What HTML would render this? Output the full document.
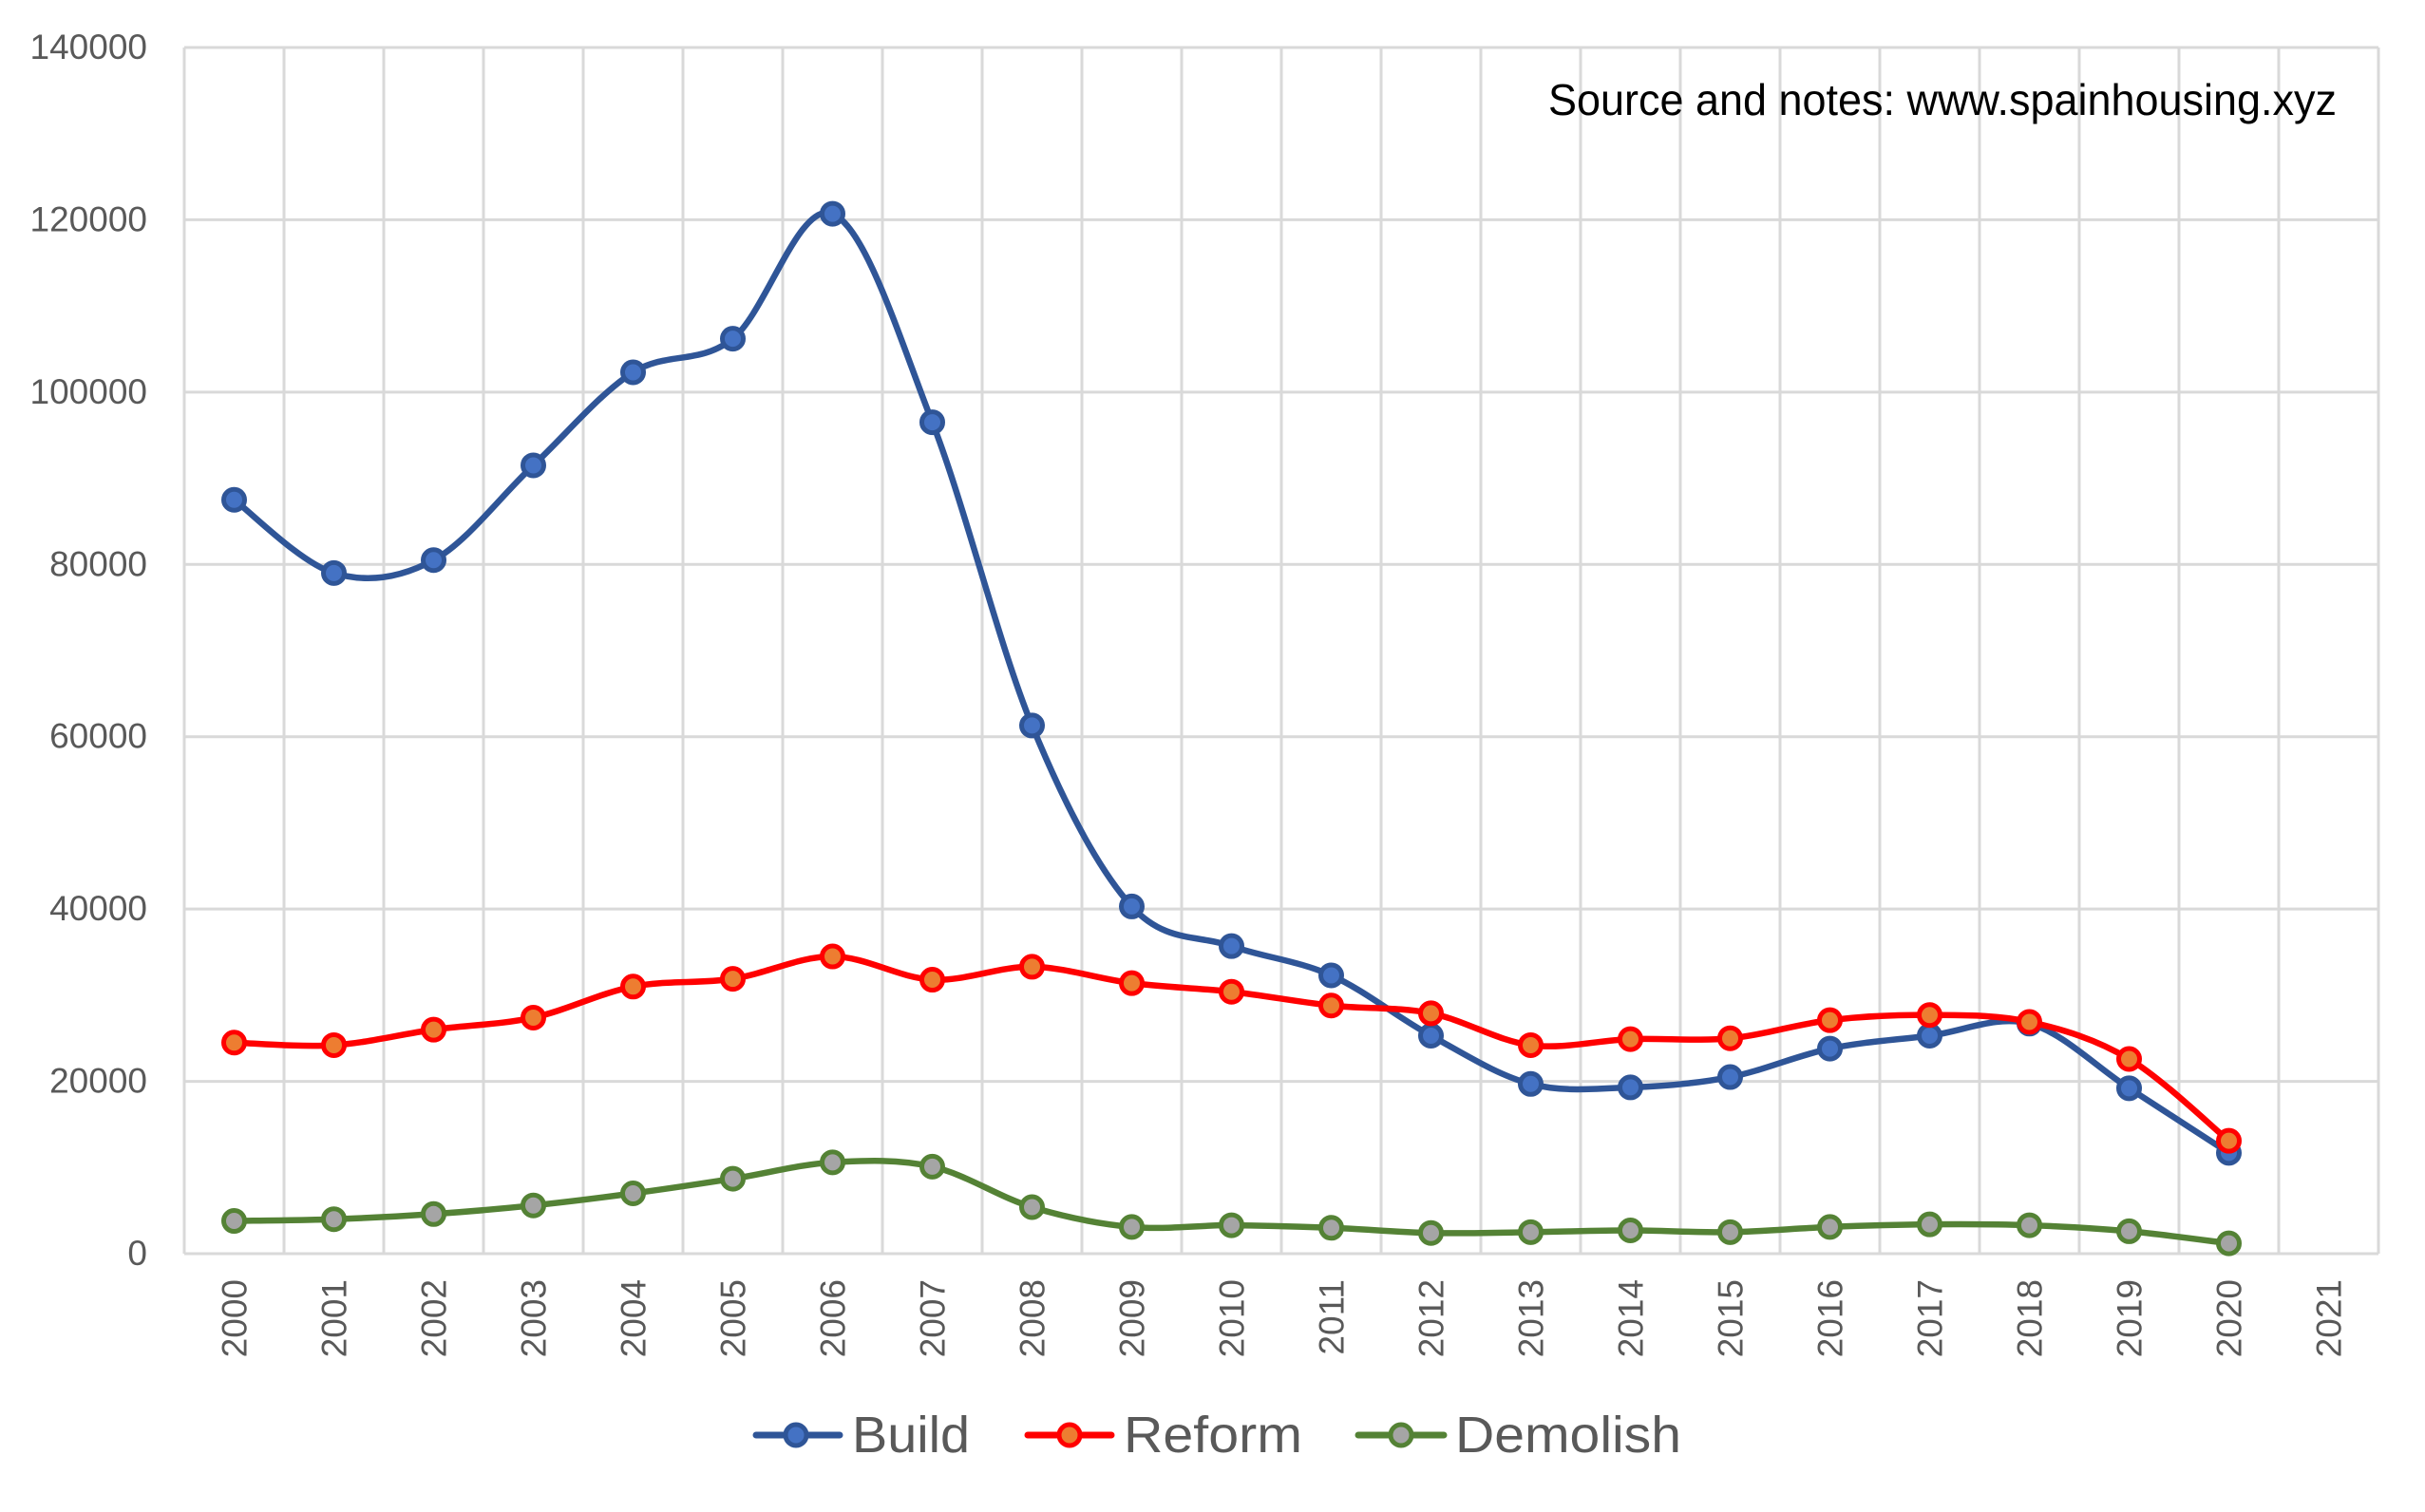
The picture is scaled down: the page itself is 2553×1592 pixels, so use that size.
<!DOCTYPE html>
<html><head><meta charset="utf-8"><style>
html,body{margin:0;padding:0;background:#fff;}
svg{display:block;font-family:"Liberation Sans",sans-serif;}
</style></head><body>
<svg id="chart" width="2553" height="1592" viewBox="0 0 2553 1592">
<g id="grid"></g>
<g id="yaxis"></g>
<g id="xaxis"></g>
<g id="series"></g>
<text x="2460" y="121" text-anchor="end" font-size="46" fill="#000" textLength="830" lengthAdjust="spacingAndGlyphs">Source and notes: www.spainhousing.xyz</text>
<g>
 <g>
  <line x1="796" y1="1511" x2="884" y2="1511" stroke="#2F5597" stroke-width="7" stroke-linecap="round"/>
  <circle cx="838" cy="1511" r="11" fill="#4472C4" stroke="#2F5597" stroke-width="5"/>
  <text x="897" y="1529" font-size="54" fill="#595959" textLength="124" lengthAdjust="spacingAndGlyphs">Build</text>
 </g>
 <g>
  <line x1="1082" y1="1511" x2="1170" y2="1511" stroke="#FF0000" stroke-width="7" stroke-linecap="round"/>
  <circle cx="1126" cy="1511" r="11" fill="#ED7D31" stroke="#FF0000" stroke-width="5"/>
  <text x="1183" y="1529" font-size="54" fill="#595959" textLength="188" lengthAdjust="spacingAndGlyphs">Reform</text>
 </g>
 <g>
  <line x1="1430" y1="1511" x2="1520" y2="1511" stroke="#548235" stroke-width="7" stroke-linecap="round"/>
  <circle cx="1475" cy="1511" r="11" fill="#A5A5A5" stroke="#548235" stroke-width="5"/>
  <text x="1532" y="1529" font-size="54" fill="#595959" textLength="238" lengthAdjust="spacingAndGlyphs">Demolish</text>
 </g>
</g>
</svg>
<script>
const categories = ["2000","2001","2002","2003","2004","2005","2006","2007","2008","2009","2010","2011","2012","2013","2014","2015","2016","2017","2018","2019","2020","2021"];
const buildValues = [87500,79000,80500,91500,102300,106200,120700,96500,61300,40300,35700,32300,25300,19700,19300,20500,23800,25300,26700,19200,11700];
const reformValues = [24500,24200,26000,27400,31000,31900,34500,31800,33300,31400,30400,28800,27900,24200,24900,25000,27100,27700,26900,22600,13100];
const demolishValues = [3800,4000,4600,5600,7000,8700,10600,10100,5400,3100,3300,3000,2400,2500,2700,2500,3100,3400,3300,2600,1200];
const yTicks = [0,20000,40000,60000,80000,100000,120000,140000];

const NS="http://www.w3.org/2000/svg";
const L=194,R=2504,T=50,B=1320,YMAX=140000;
const bw=(R-L)/categories.length;
function xs(i){return L+bw*(i+0.5);}
function ys(v){return B-(v/YMAX)*(B-T);}
function mk(tag,attrs,parent){const e=document.createElementNS(NS,tag);for(const k in attrs)e.setAttribute(k,attrs[k]);parent.appendChild(e);return e;}

const grid=document.getElementById('grid');
yTicks.forEach(v=>{
  const l=mk('line',{x1:L,x2:R,y1:ys(v),y2:ys(v),stroke:'#D9D9D9','stroke-width':3},grid);
  
  
});
for(let i=0;i<=categories.length;i++){
  const x=L+bw*i;
  const l=mk('line',{x1:x,x2:x,y1:T,y2:B,stroke:'#D9D9D9','stroke-width':3},grid);
  
  
}
const yaxis=document.getElementById('yaxis');
yTicks.forEach(v=>{
  const t=mk('text',{x:155,y:ys(v)+12,'text-anchor':'end','font-size':37,fill:'#595959'},yaxis);
  t.textContent=String(v);
  
  
});
const xaxis=document.getElementById('xaxis');
categories.forEach((c,i)=>{
  const x=xs(i)+13,y=1347;
  const t=mk('text',{x:x,y:y,'text-anchor':'end','font-size':37,fill:'#595959',transform:`rotate(-90 ${x} ${y})`},xaxis);
  t.textContent=c;
  
  
});

function smoothPath(pts){
  let d=`M${pts[0][0]},${pts[0][1]}`;
  for(let i=0;i<pts.length-1;i++){
    const p0=pts[i-1]||pts[i],p1=pts[i],p2=pts[i+1],p3=pts[i+2]||p2;
    const c1=[p1[0]+(p2[0]-p0[0])/6,p1[1]+(p2[1]-p0[1])/6];
    const c2=[p2[0]-(p3[0]-p1[0])/6,p2[1]-(p3[1]-p1[1])/6];
    d+=` C${c1[0]},${c1[1]} ${c2[0]},${c2[1]} ${p2[0]},${p2[1]}`;
  }
  return d;
}
const seriesG=document.getElementById('series');
function drawSeries(vals,line,fill,name){
  const g=mk('g',{},seriesG);
  
  
  const pts=vals.map((v,i)=>[xs(i),ys(v)]);
  const p=mk('path',{d:smoothPath(pts),fill:'none',stroke:line,'stroke-width':6.5,'stroke-linejoin':'round'},g);
  
  
  pts.forEach(pt=>{
    const c=mk('circle',{cx:pt[0],cy:pt[1],r:11,fill:fill,stroke:line,'stroke-width':5},g);
    
    
  });
}
drawSeries(demolishValues,'#548235','#A5A5A5','demolish');
drawSeries(buildValues,'#2F5597','#4472C4','build');
drawSeries(reformValues,'#FF0000','#ED7D31','reform');
</script>
</body></html>
